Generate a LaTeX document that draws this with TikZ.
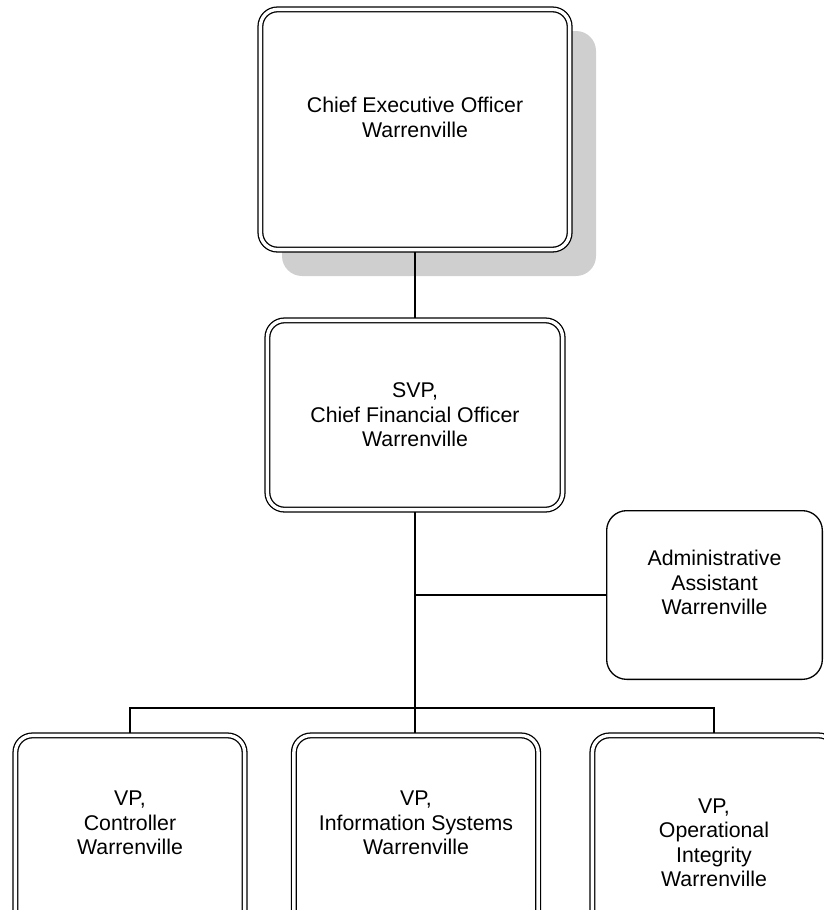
\documentclass[tikz,border=0pt]{standalone}
\usepackage{fontspec}
\setmainfont{Liberation Sans}
\usetikzlibrary{backgrounds}
\definecolor{shadowgray}{HTML}{CFCFCF}
\tikzset{
  dbox/.style={draw, double, double distance=3.4pt, line width=1.3pt, fill=white,
    rounded corners=17pt, inner sep=0pt, outer sep=0pt, align=center,
    font=\fontsize{21.3}{24.5}\selectfont},
  sbox/.style={draw, line width=1.3pt, fill=white,
    rounded corners=20pt, inner sep=0pt, outer sep=0pt, align=center,
    font=\fontsize{21.3}{24.5}\selectfont},
  conn/.style={line width=1.3pt}
}
\begin{document}
\begin{tikzpicture}[x=1pt,y=-1pt]
\useasboundingbox (0,0) rectangle (824,910);
\node[dbox, minimum width=309.2pt, minimum height=240.2pt] (ceo) at (415,129.5)
  {Chief Executive Officer\\Warrenville\\\mbox{}};
\node[dbox, minimum width=295.2pt, minimum height=189.2pt] (cfo) at (415,415)
  {SVP,\\Chief Financial Officer\\Warrenville};
\node[sbox, minimum width=215.7pt, minimum height=168.7pt] (admin) at (714.5,595)
  {Administrative\\Assistant\\Warrenville\\\mbox{}};
\node[dbox, minimum width=229.2pt, minimum height=199.2pt] (ctrl) at (130,835)
  {VP,\\Controller\\Warrenville\\\mbox{}};
\node[dbox, minimum width=244.2pt, minimum height=199.2pt] (info) at (416,835)
  {VP,\\Information Systems\\Warrenville\\\mbox{}};
\node[dbox, minimum width=243.2pt, minimum height=239.2pt] (ops) at (714,855)
  {VP,\\Operational\\Integrity\\Warrenville\\\mbox{}};
\coordinate (bus) at (415,708);
\begin{pgfonlayer}{background}
  \fill[shadowgray, rounded corners=20pt]
    ([shift={(21.6,21.6)}]ceo.north west) rectangle ([shift={(26.4,26.4)}]ceo.south east);
  \draw[conn] (ceo.south) -- (cfo.north);
  \draw[conn] (cfo.south) -- (bus);
  \draw[conn] (cfo.south |- admin.west) -- (admin.west);
  \draw[conn] (ctrl.north) |- (bus) -| (ops.north);
  \draw[conn] (bus) -- (bus |- info.north);
\end{pgfonlayer}
\end{tikzpicture}
\end{document}
